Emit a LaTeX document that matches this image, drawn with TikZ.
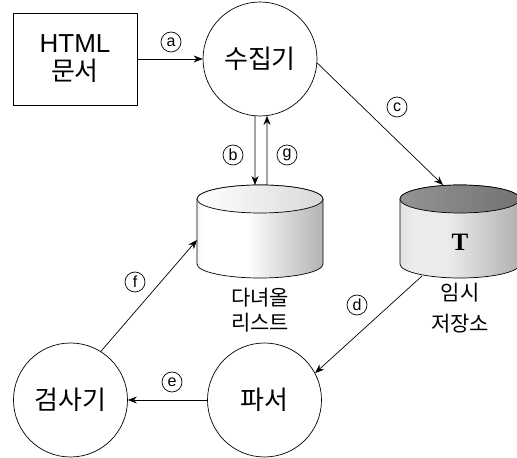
\documentclass[tikz,border=0pt]{standalone}
\usepackage{fontspec}
\setmainfont{Noto Sans CJK KR}
\newfontfamily\teefont{Liberation Serif}
\newfontfamily\latinfont{Liberation Sans}
\usetikzlibrary{arrows.meta,calc}
% side shading of the two drums
\pgfdeclarehorizontalshading{listbody}{100bp}{color(0bp)=(black!28); color(28bp)=(white); color(45bp)=(white); color(100bp)=(black!55)}
\pgfdeclarehorizontalshading{tempbody}{100bp}{color(0bp)=(black!30); color(30bp)=(black!8); color(45bp)=(black!8); color(100bp)=(black!50)}
\begin{document}
\begin{tikzpicture}[x=1pt,y=1pt,
  proc/.style={circle,draw,line width=0.7pt,minimum size=114pt,inner sep=0pt,font=\fontsize{26}{28}\selectfont},
  tag/.style={circle,draw,line width=0.7pt,minimum size=20pt,inner sep=0pt,font=\latinfont\fontsize{16}{16}\selectfont},
  flow/.style={line width=0.7pt,-{Stealth[length=9pt,width=7pt]}},
  lbl/.style={align=center,font=\fontsize{21}{25}\selectfont}]
\useasboundingbox (0,0) rectangle (517,458);
\fill[white] (0,0) rectangle (517,458);

% source document
\node[draw,line width=0.7pt,minimum width=124pt,minimum height=92pt,align=center,
      font=\fontsize{26}{28}\selectfont] (doc) at (75,399) {{\latinfont HTML}\\문서};

% processes
\node[proc] (col) at (260,399) {수집기};
\node[proc] (prs) at (264.5,58) {파서};
\node[proc] (ins) at (70.5,58) {검사기};

% drum: list of pages to visit
\shadedraw[shading=listbody,line width=0.7pt]
  (197,259) -- (197,194) arc[start angle=180,end angle=360,x radius=63,y radius=14]
  -- (323,259) arc[start angle=0,end angle=180,x radius=63,y radius=14] -- cycle;
\shadedraw[left color=white,right color=black!15,line width=0.7pt]
  (260,259) ellipse[x radius=63,y radius=14];
\node[lbl] (lstname) at (260,148) {다녀올\\리스트};

% drum: temporary store
\shadedraw[shading=tempbody,line width=0.7pt]
  (400,259) -- (400,194) arc[start angle=180,end angle=360,x radius=60,y radius=14]
  -- (520,259) arc[start angle=0,end angle=180,x radius=60,y radius=14] -- cycle;
\shadedraw[left color=black!42,right color=black!55,line width=0.7pt]
  (460,259) ellipse[x radius=60,y radius=14];
\node[font=\teefont\bfseries\fontsize{25}{25}\selectfont] (tee) at (460,216) {T};
\node[lbl,font=\fontsize{21}{31}\selectfont] (tmpname) at (460,150) {임시\\저장소};

% connector ends on the drums
\coordinate (lstB) at (255,273);
\coordinate (lstG) at (267,273);
\coordinate (lstF) at (197,218);
\coordinate (tmpC) at (443,273);
\coordinate (tmpD) at (422,182);

% flows
\draw[flow] (doc.east) -- (col.west);
\draw[flow] (col.265) -- (lstB);
\draw[flow] (lstG) -- (col.277);
\draw[flow] (col.-4) -- (tmpC);
\draw[flow] (tmpD) -- (prs.28);
\draw[flow] (prs.west) -- (ins.east);
\draw[flow] (ins.58) -- (lstF);

% step tags
\node[tag] (ta) at (171,416) {a};
\node[tag] (tb) at (233,303) {b};
\node[tag] (tg) at (287,303) {g};
\node[tag] (tc) at (397,351) {c};
\node[tag] (td) at (357,153) {d};
\node[tag] (te) at (172,76) {e};
\node[tag] (tf) at (135,176) {f};
\end{tikzpicture}
\end{document}
